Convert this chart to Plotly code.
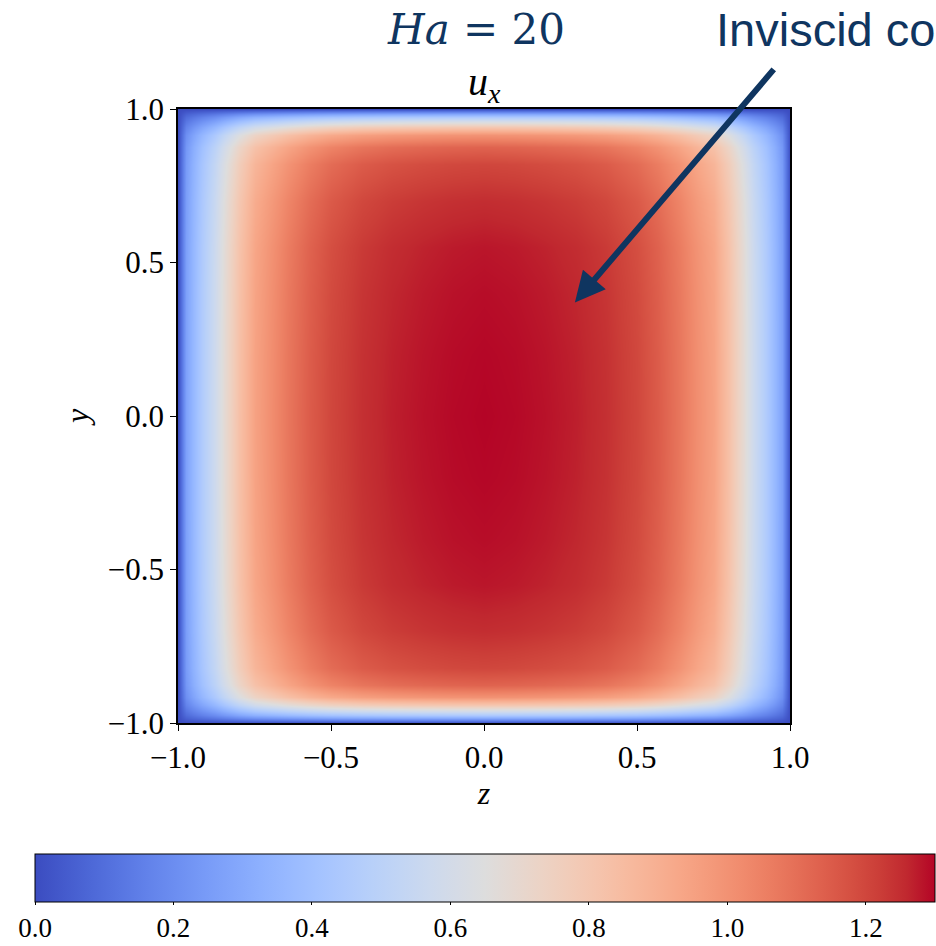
import numpy as np
import plotly.graph_objects as go

# Streamwise velocity u_x in the square duct cross-section, Ha = 20.
# Centreline profiles: u_x(z) along y = 0 and u_x(y) along z = 0 (half-profiles, symmetric).
z_half = [0.0, 0.1, 0.2, 0.3, 0.4, 0.5, 0.57, 0.64, 0.7, 0.75, 0.8, 0.85, 0.88, 0.92, 0.95, 0.975, 1.0]
u_along_z = [1.30, 1.295, 1.285, 1.27, 1.245, 1.20, 1.15, 1.08, 1.01, 0.95, 0.83, 0.68, 0.58, 0.46, 0.36, 0.27, 0.0]

y_half = [0.0, 0.2, 0.4, 0.55, 0.7, 0.82, 0.875, 0.915, 0.94, 0.96, 0.975, 0.985, 1.0]
u_along_y = [1.30, 1.297, 1.29, 1.28, 1.25, 1.20, 1.13, 1.00, 0.80, 0.60, 0.45, 0.30, 0.0]

u_centre = 1.30
u_min, u_max = 0.0, 1.30

axis_ticks = [-1.0, -0.5, 0.0, 0.5, 1.0]
cbar_ticks = [0.0, 0.2, 0.4, 0.6, 0.8, 1.0, 1.2]

# matplotlib-style "coolwarm" diverging colour map
coolwarm_rgb = [
    (59, 76, 192), (68, 90, 204), (77, 104, 215), (87, 117, 225), (98, 130, 234),
    (108, 142, 241), (119, 154, 247), (130, 165, 251), (141, 176, 254), (152, 185, 255),
    (163, 194, 255), (174, 201, 253), (184, 208, 249), (194, 213, 244), (204, 217, 238),
    (213, 219, 230), (221, 221, 221), (229, 216, 209), (236, 211, 197), (241, 204, 185),
    (245, 196, 173), (247, 187, 160), (247, 177, 148), (247, 166, 135), (244, 154, 123),
    (241, 141, 111), (236, 127, 99), (229, 112, 88), (222, 96, 77), (213, 80, 66),
    (203, 62, 56), (192, 40, 47), (180, 4, 38),
]
coolwarm = [[i / (len(coolwarm_rgb) - 1), "rgb(%d,%d,%d)" % c] for i, c in enumerate(coolwarm_rgb)]

# full symmetric coordinates / profiles
z_full = np.array([-v for v in z_half[::-1]] + z_half[1:])
uz_full = np.array(u_along_z[::-1] + u_along_z[1:])
y_full = np.array([-v for v in y_half[::-1]] + y_half[1:])
uy_full = np.array(u_along_y[::-1] + u_along_y[1:])

# separable field built from the two centreline profiles
u_field = np.outer(uy_full, uz_full) / u_centre

NAVY = "#0f3560"
SERIF = "Liberation Serif"

PW, PH, L, T = 612, 614, 178, 109
W, H = 936, 946


def px(xp):
    return (xp - L) / PW


def py(yp):
    return (T + PH - yp) / PH


fig = go.Figure()
fig.add_trace(go.Heatmap(
    x=z_full, y=y_full, z=u_field,
    zsmooth="best",
    colorscale=coolwarm, zmin=u_min, zmax=u_max,
    colorbar=dict(
        orientation="h",
        x=px(35), xanchor="left",
        y=py(854), yanchor="top",
        len=900, lenmode="pixels",
        thickness=48, thicknessmode="pixels",
        outlinewidth=1, outlinecolor="black",
        ticks="outside", ticklen=3, tickwidth=1, tickcolor="black",
        tickvals=cbar_ticks, ticktext=["%.1f" % t for t in cbar_ticks],
        tickfont=dict(family=SERIF, size=27, color="black"),
        xpad=0, ypad=0,
    ),
    hoverinfo="skip",
))

tick_text = [("%.1f" % t).replace("-", "\u2212") for t in axis_ticks]
axis_common = dict(
    range=[-1, 1], tickvals=axis_ticks, ticktext=tick_text,
    ticks="outside", ticklen=6, tickwidth=1.2, tickcolor="black",
    showline=True, linecolor="black", linewidth=1.5, mirror=True,
    showgrid=False, zeroline=False,
    tickfont=dict(family=SERIF, size=31, color="black"),
)
fig.update_xaxes(**axis_common,
                 title=dict(text="<i>z</i>", font=dict(family=SERIF, size=32, color="black"), standoff=8))
fig.update_yaxes(**axis_common,
                 title=dict(text="<i>y</i>", font=dict(family=SERIF, size=32, color="black"), standoff=10))

fig.add_annotation(text="<i>u</i><sub><i>x</i></sub>", xref="paper", yref="paper",
                   x=0.5, y=1, yanchor="bottom", xanchor="center", showarrow=False,
                   font=dict(family=SERIF, size=40, color="black"), yshift=-2)
fig.add_annotation(text="<i>Ha</i> = 20", xref="paper", yref="paper",
                   x=px(476), y=py(30), xanchor="center", yanchor="middle", showarrow=False,
                   font=dict(family="DejaVu Serif", size=42, color=NAVY))
fig.add_annotation(text="Inviscid co", xref="paper", yref="paper",
                   x=px(714), y=py(30), xanchor="left", yanchor="middle", showarrow=False,
                   font=dict(family="Liberation Sans", size=47, color=NAVY))
# arrow pointing into the core region
fig.add_annotation(text="", x=0.297, y=0.37, xref="x", yref="y",
                   ax=0.951, ay=1.134, axref="x", ayref="y",
                   showarrow=True, arrowhead=2, arrowsize=1, arrowwidth=6,
                   arrowcolor=NAVY)

fig.update_layout(
    width=W, height=H,
    margin=dict(l=L, r=W - L - PW, t=T, b=H - T - PH, autoexpand=False),
    paper_bgcolor="white", plot_bgcolor="white",
    showlegend=False,
)

fig.write_html("out.html")
